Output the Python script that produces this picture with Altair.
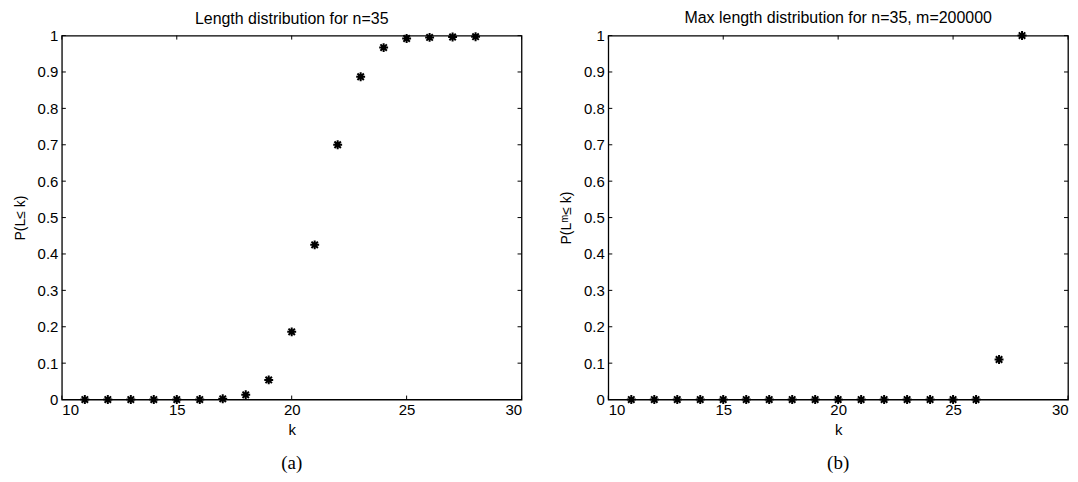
import altair as alt
import pandas as pd

k_a = [11, 12, 13, 14, 15, 16, 17, 18, 19, 20, 21, 22, 23, 24, 25, 26, 27, 28]
p_a = [0, 0, 0, 0, 0, 0, 0.002, 0.013, 0.054, 0.186, 0.425, 0.70, 0.887, 0.967, 0.992, 0.995, 0.996, 0.997]

k_b = [11, 12, 13, 14, 15, 16, 17, 18, 19, 20, 21, 22, 23, 24, 25, 26, 27, 28]
p_b = [0, 0, 0, 0, 0, 0, 0, 0, 0, 0, 0, 0, 0, 0, 0, 0, 0.11, 1.0]

x_ticks = [10, 15, 20, 25, 30]
y_ticks = [0, 0.1, 0.2, 0.3, 0.4, 0.5, 0.6, 0.7, 0.8, 0.9, 1.0]

titles = ["Length distribution for n=35", "Max length distribution for n=35, m=200000"]
ytitles = ["P(L\u2264 k)", "P(L\u1d50\u2264 k)"]
captions = ["(a)", "(b)"]

FONT = "Liberation Sans"
ASTER = "M-1,0L1,0M0,-1L0,1M-0.72,-0.72L0.72,0.72M-0.72,0.72L0.72,-0.72"

W = 461
H = 365
TL = 4


def panel(ks, ps, title, ytitle, caption):
    df = pd.DataFrame({"k": ks, "p": ps})
    xs = alt.Scale(domain=[10, 30], nice=False)
    ys = alt.Scale(domain=[0, 1], nice=False)
    xax = alt.Axis(values=x_ticks, format="~g", ticks=False, domain=False, grid=False,
                   labelFont=FONT, labelFontSize=15, labelColor="black", labelPadding=3,
                   labelOverlap=False,
                   title="k", titleFont=FONT, titleFontSize=15, titleFontWeight="normal",
                   titleColor="black", titlePadding=5)
    yax = alt.Axis(values=y_ticks, format="~g", ticks=False, domain=False, grid=False,
                   labelFont=FONT, labelFontSize=15, labelColor="black", labelPadding=4,
                   labelOverlap=False,
                   title=ytitle, titleFont=FONT, titleFontSize=14, titleFontWeight="normal",
                   titleColor="black", titlePadding=10)
    pts = alt.Chart(df).mark_point(shape=ASTER, size=80, filled=False, stroke="black",
                                   strokeWidth=2, opacity=1).encode(
        x=alt.X("k:Q", scale=xs, axis=xax),
        y=alt.Y("p:Q", scale=ys, axis=yax),
    )
    ydf = pd.DataFrame({"v": y_ticks})
    xdf = pd.DataFrame({"v": x_ticks})
    yl = alt.Chart(ydf).mark_rule(color="black", strokeWidth=1).encode(
        y=alt.Y("v:Q", scale=ys, axis=yax), x=alt.value(0), x2=alt.value(TL))
    yr = alt.Chart(ydf).mark_rule(color="black", strokeWidth=1).encode(
        y=alt.Y("v:Q", scale=ys, axis=yax), x=alt.value(W - TL), x2=alt.value(W))
    xb = alt.Chart(xdf).mark_rule(color="black", strokeWidth=1).encode(
        x=alt.X("v:Q", scale=xs, axis=xax), y=alt.value(H - TL), y2=alt.value(H))
    xt = alt.Chart(xdf).mark_rule(color="black", strokeWidth=1).encode(
        x=alt.X("v:Q", scale=xs, axis=xax), y=alt.value(0), y2=alt.value(TL))
    cap = alt.Chart(pd.DataFrame({"c": [caption]})).mark_text(
        font="Liberation Serif", fontSize=19, color="black", baseline="middle").encode(
        x=alt.value(W / 2), y=alt.value(H + 64), text="c:N")
    return alt.layer(pts, xb, xt, yl, yr, cap).properties(
        width=W, height=H,
        title=alt.TitleParams(title, font=FONT, fontSize=16, fontWeight="normal",
                              color="black", offset=1),
    )


left = panel(k_a, p_a, titles[0], ytitles[0], captions[0])
right = panel(k_b, p_b, titles[1], ytitles[1], captions[1])

chart = alt.hconcat(left, right, spacing=87, bounds="flush").configure_view(
    stroke="black", strokeWidth=1.3
).properties(background="white", padding={"left": 4, "top": 0, "right": 0, "bottom": 0})

chart.save("out.html", embed_options={"renderer": "svg", "actions": False})
